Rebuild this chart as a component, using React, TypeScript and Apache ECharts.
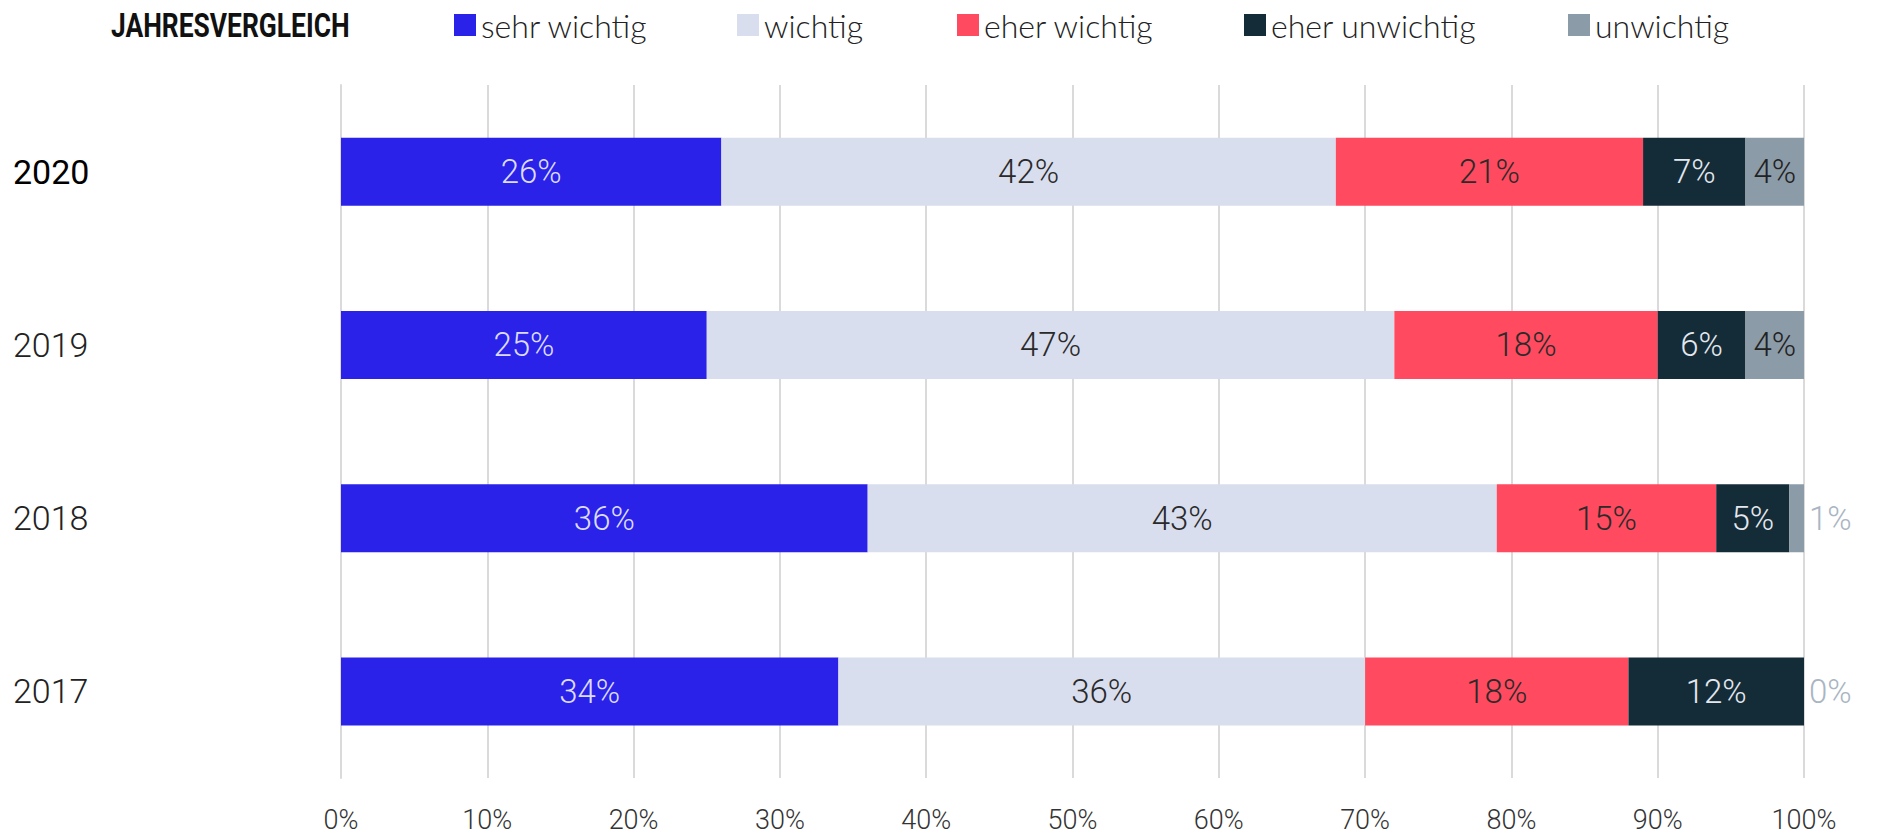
import React, { useEffect, useRef } from "react";
import * as echarts from "echarts";

const years = ["2020", "2019", "2018", "2017"];
const seriesNames = ["sehr wichtig", "wichtig", "eher wichtig", "eher unwichtig", "unwichtig"];
const sehrWichtig = [26, 25, 36, 34];
const wichtig = [42, 47, 43, 36];
const eherWichtig = [21, 18, 15, 18];
const eherUnwichtig = [7, 6, 5, 12];
const unwichtig = [4, 4, 1, 0];
const xTicks = [0, 10, 20, 30, 40, 50, 60, 70, 80, 90, 100];

const colors = ["#2b22e9", "#d9deee", "#ff4a5f", "#142c38", "#8c9ba8"];
const labelColors = ["#dcdcff", "#2a2a2a", "#2a2a2a", "#e4e8ee", "#222222"];
const legendLeft = [454, 737, 957, 1244, 1568];

const FONT = "Roboto, 'Noto Sans', sans-serif";

export default function App() {
  const ref = useRef<HTMLDivElement>(null);
  useEffect(() => {
    if (!ref.current) return;
    const chart = echarts.init(ref.current, null, { renderer: "svg" });
    const values = [sehrWichtig, wichtig, eherWichtig, eherUnwichtig, unwichtig];
    const series = seriesNames.map((name, i) => ({
      name,
      type: "bar",
      stack: "total",
      barWidth: 68,
      itemStyle: { color: colors[i] },
      label: {
        show: true,
        position: "inside",
        formatter: "{c}%",
        color: labelColors[i],
        fontFamily: FONT,
        fontWeight: 300,
        fontSize: 33,
      },
      data: values[i].map((v) =>
        i === 4 && v < 2
          ? { value: v, label: { position: "right", distance: 5, color: "#a9b5c2" } }
          : v
      ),
    }));
    chart.setOption({
      animation: false,
      graphic: [
        {
          type: "text",
          left: 111,
          top: 9,
          scaleX: 0.8,
          originX: 0,
          style: {
            text: "JAHRESVERGLEICH",
            fontFamily: FONT,
            fontWeight: "bold",
            fontSize: 33,
            fill: "#111",
          },
        },
      ],
      legend: seriesNames.map((n, i) => ({
        data: [n],
        left: legendLeft[i],
        top: 9,
        padding: 0,
        itemWidth: 22,
        itemHeight: 22,
        icon: "rect",
        selectedMode: false,
        textStyle: { fontFamily: "Lato", fontWeight: 300, fontSize: 32, color: "#222" },
      })),
      grid: { left: 341, right: 73, top: 85, bottom: 59, containLabel: false, outerBoundsMode: "none" },
      xAxis: {
        type: "value",
        min: xTicks[0],
        max: xTicks[xTicks.length - 1],
        interval: 10,
        axisLine: { show: false },
        axisTick: { show: false },
        splitLine: { show: true, lineStyle: { color: "#dadada", width: 2 } },
        axisLabel: {
          formatter: "{value}%",
          fontFamily: FONT,
          fontWeight: 300,
          fontSize: 27,
          color: "#333",
          margin: 28,
        },
      },
      yAxis: {
        type: "category",
        inverse: true,
        data: years.map((y, i) =>
          i === 0
            ? {
                value: y,
                textStyle: {
                  align: "left",
                  fontFamily: FONT,
                  fontSize: 34,
                  color: "#000",
                  fontWeight: 400,
                },
              }
            : y
        ),
        axisLine: { show: true, lineStyle: { color: "#dadada", width: 2 } },
        axisTick: { show: false },
        axisLabel: {
          align: "left",
          margin: 328,
          fontFamily: FONT,
          fontWeight: 300,
          fontSize: 34,
          color: "#222",
        },
      },
      series,
    });
    return () => chart.dispose();
  }, []);
  return (
    <div
      ref={ref}
      style={{ position: "fixed", left: 0, top: 0, width: 1877, height: 837, background: "#fff" }}
    />
  );
}
